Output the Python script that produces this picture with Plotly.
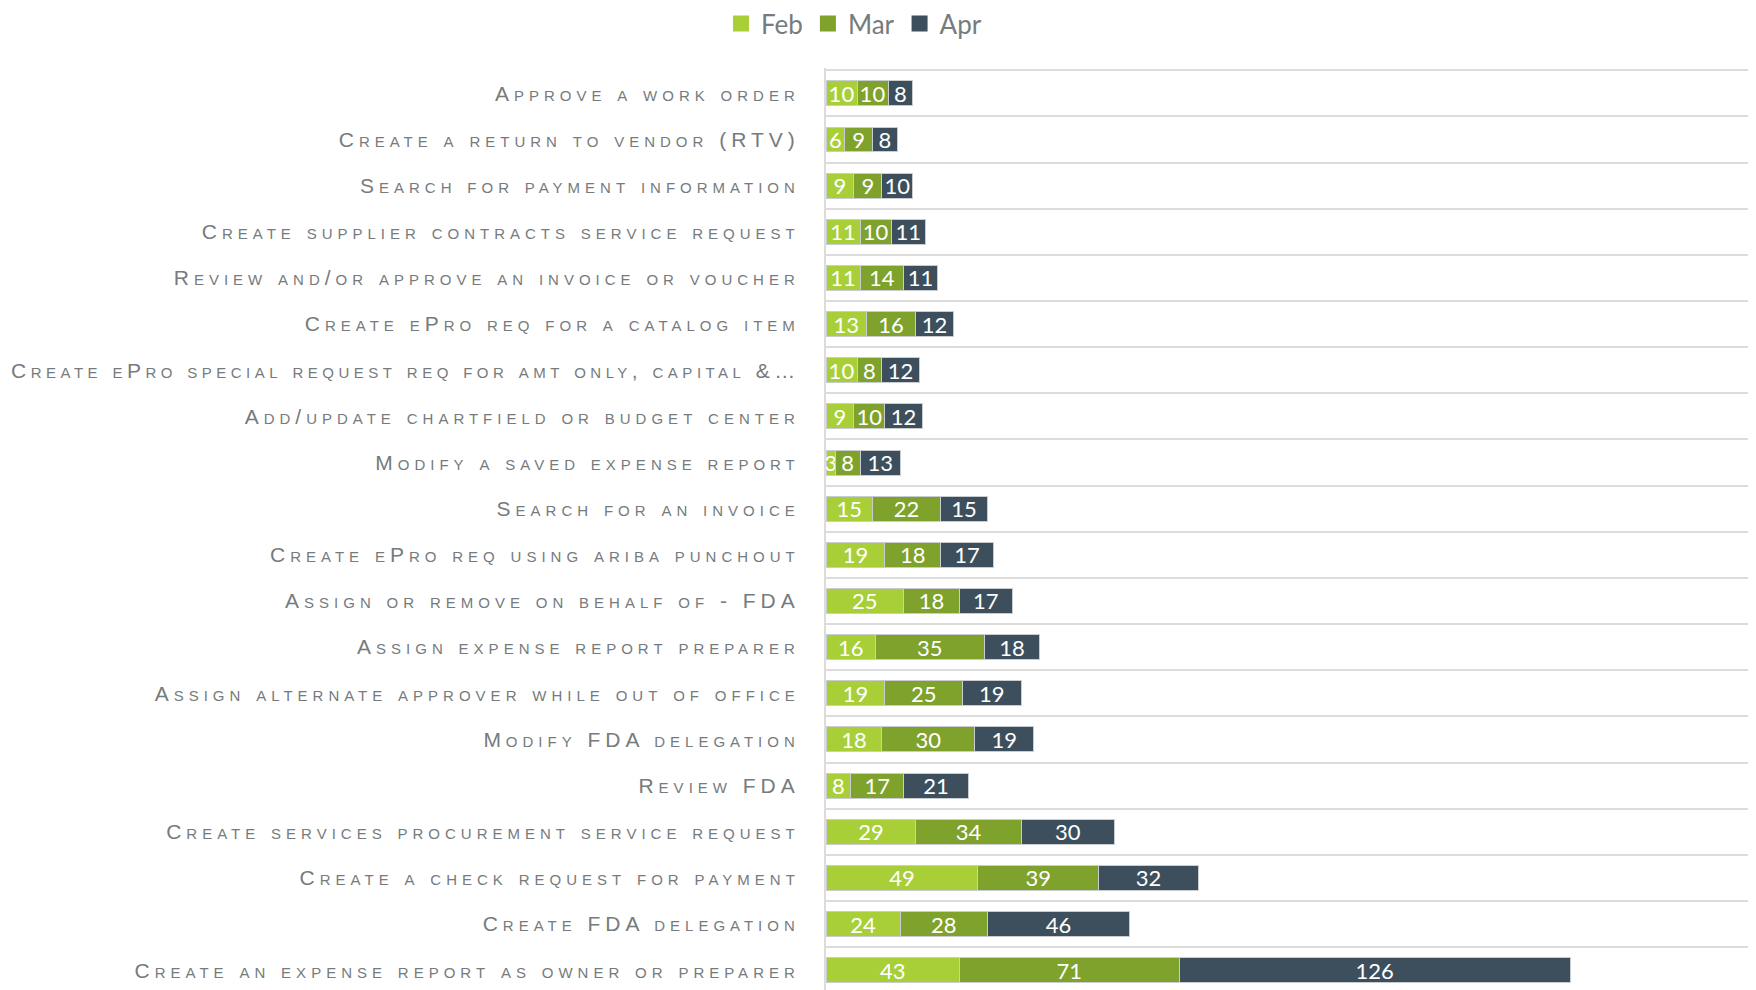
import plotly.graph_objects as go

# tasks, top to bottom
tasks = [
    "Approve a work order",
    "Create a return to vendor (RTV)",
    "Search for payment information",
    "Create supplier contracts service request",
    "Review and/or approve an invoice or voucher",
    "Create ePro req for a catalog item",
    "Create ePro special request req for amt only, capital &…",
    "Add/update chartfield or budget center",
    "Modify a saved expense report",
    "Search for an invoice",
    "Create ePro req using ariba punchout",
    "Assign or remove on behalf of - FDA",
    "Assign expense report preparer",
    "Assign alternate approver while out of office",
    "Modify FDA delegation",
    "Review FDA",
    "Create services procurement service request",
    "Create a check request for payment",
    "Create FDA delegation",
    "Create an expense report as owner or preparer",
]
feb = [10, 6, 9, 11, 11, 13, 10, 9, 3, 15, 19, 25, 16, 19, 18, 8, 29, 49, 24, 43]
mar = [10, 9, 9, 10, 14, 16, 8, 10, 8, 22, 18, 18, 35, 25, 30, 17, 34, 39, 28, 71]
apr = [8, 8, 10, 11, 11, 12, 12, 12, 13, 15, 17, 17, 18, 19, 19, 21, 30, 32, 46, 126]

months = ["Feb", "Mar", "Apr"]
colors = ["#a8cf38", "#7fa22c", "#3d4f5c"]
FONT = "Lato, 'Open Sans', sans-serif"
LABEL_FONT = "'Liberation Sans', Arial, sans-serif"
GREY = "#767b7d"

fig = go.Figure()
for name, vals, col in zip(months, [feb, mar, apr], colors):
    fig.add_trace(go.Bar(
        y=tasks, x=vals, name=name, orientation='h', showlegend=False,
        marker=dict(color=col, line=dict(color='#c9cdd0', width=1)),
        text=vals, textposition='inside', insidetextanchor='middle', textangle=0,
        constraintext='none', cliponaxis=False,
        textfont=dict(family=FONT, size=22, color='white'),
    ))
    # legend proxy with a bigger square swatch
    fig.add_trace(go.Scatter(
        x=[None], y=[None], mode='markers', name=name,
        marker=dict(symbol='square', size=17, color=col),
    ))

# wide tracking like the original small-caps labels; the truncated one is a bit tighter
ticktext = []
for t in tasks:
    sp = 4.5 if len(t) > 50 else 5
    ticktext.append('<span style="letter-spacing:%spx">%s</span>' % (sp, t))

# the page body has an 8px margin, so the figure is sized to fit the window
fig.update_layout(
    barmode='stack',
    bargap=0.46,
    width=1748, height=982,
    margin=dict(l=818, r=0, t=60, b=0, autoexpand=False),
    plot_bgcolor='white', paper_bgcolor='white',
    font=dict(family=FONT, color=GREY),
    uniformtext=dict(minsize=22, mode='show'),
    showlegend=True,
    legend=dict(orientation='h', xref='container', x=0.484, xanchor='center',
                yref='container', y=0.984, yanchor='middle',
                font=dict(size=26, color=GREY), traceorder='normal',
                itemwidth=30, bgcolor='rgba(0,0,0,0)'),
    xaxis=dict(range=[0, 300], showgrid=False, zeroline=False, showticklabels=False,
               showline=False),
    yaxis=dict(type='category', range=[19.43, -0.55], tickson='boundaries',
               tickvals=tasks, ticktext=ticktext,
               showgrid=True, gridcolor='#dcdcdc', gridwidth=2,
               showline=True, linecolor='#dcdcdc', linewidth=2,
               ticks='', ticklabelstandoff=20, automargin=False,
               tickfont=dict(family=LABEL_FONT, size=21, color=GREY, variant='small-caps')),
)

fig.write_html("out.html")
